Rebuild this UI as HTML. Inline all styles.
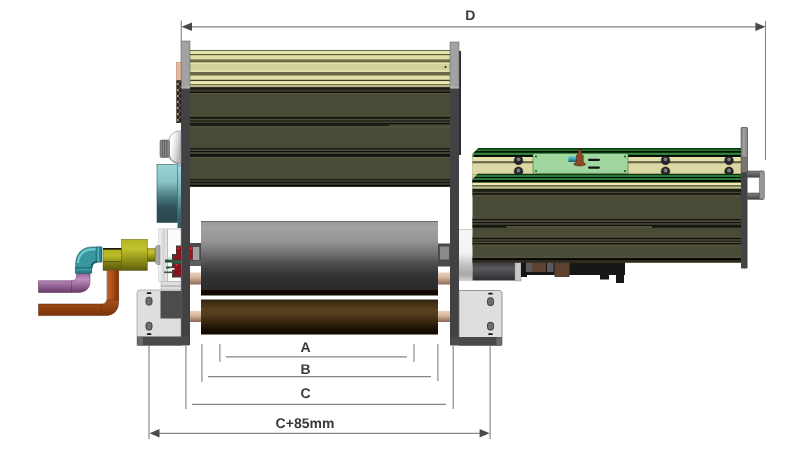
<!DOCTYPE html>
<html><head><meta charset="utf-8">
<style>
html,body{margin:0;padding:0;background:#fff;}
body{width:800px;height:456px;overflow:hidden;font-family:"Liberation Sans",sans-serif;}
svg{display:block;}
text{text-rendering:geometricPrecision;font-family:"Liberation Sans",sans-serif;font-weight:bold;font-size:14px;fill:#3a3a3a;}
</style></head><body>
<svg width="800" height="456" viewBox="0 0 800 456">
<defs>
<linearGradient id="gRoll" x1="0" y1="0" x2="0" y2="1">
 <stop offset="0" stop-color="#989898"/><stop offset="0.1" stop-color="#a2a2a2"/><stop offset="0.28" stop-color="#969696"/>
 <stop offset="0.45" stop-color="#747474"/><stop offset="0.62" stop-color="#4c4c4c"/><stop offset="0.8" stop-color="#323232"/><stop offset="1" stop-color="#2a2a2a"/>
</linearGradient>
<linearGradient id="gBrown" x1="0" y1="0" x2="0" y2="1">
 <stop offset="0" stop-color="#2c1e0a"/><stop offset="0.1" stop-color="#403014"/><stop offset="0.3" stop-color="#584220"/><stop offset="0.45" stop-color="#503a1a"/><stop offset="0.65" stop-color="#35250e"/>
 <stop offset="0.85" stop-color="#1a1004"/><stop offset="1" stop-color="#100800"/>
</linearGradient>
<linearGradient id="gTeal" x1="0" y1="0" x2="0" y2="1">
 <stop offset="0" stop-color="#9ad4d8"/><stop offset="0.3" stop-color="#88c4c8"/><stop offset="0.55" stop-color="#4c7c84"/><stop offset="0.75" stop-color="#2e4e56"/><stop offset="1" stop-color="#2a464e"/>
</linearGradient>
<linearGradient id="gPeach" x1="0" y1="0" x2="0" y2="1">
 <stop offset="0" stop-color="#e8d0bc"/><stop offset="0.4" stop-color="#d8b8a0"/><stop offset="1" stop-color="#8a6a58"/>
</linearGradient>
<linearGradient id="gMotor" x1="0" y1="0" x2="0" y2="1">
 <stop offset="0" stop-color="#3a3a3c"/><stop offset="0.35" stop-color="#5a5a5e"/><stop offset="1" stop-color="#2c2c2e"/>
</linearGradient>
<linearGradient id="gSilver" x1="0" y1="0" x2="0" y2="1">
 <stop offset="0" stop-color="#f6f6f6"/><stop offset="0.45" stop-color="#f4f4f4"/><stop offset="0.72" stop-color="#bcbcbc"/><stop offset="0.88" stop-color="#a8a8a8"/><stop offset="1" stop-color="#d4d4d4"/>
</linearGradient>
<linearGradient id="gPurple" x1="0" y1="0" x2="0" y2="1">
 <stop offset="0" stop-color="#8a5a8a"/><stop offset="0.35" stop-color="#c090c0"/><stop offset="1" stop-color="#6a3a6a"/>
</linearGradient>
<linearGradient id="gOrange" x1="0" y1="0" x2="0" y2="1">
 <stop offset="0" stop-color="#a04a14"/><stop offset="0.35" stop-color="#d06a28"/><stop offset="1" stop-color="#7a3208"/>
</linearGradient>
<linearGradient id="gOrangeV" x1="0" y1="0" x2="1" y2="0">
 <stop offset="0" stop-color="#c86426"/><stop offset="0.5" stop-color="#a84e16"/><stop offset="1" stop-color="#7a3208"/>
</linearGradient>
<linearGradient id="gYellow" x1="0" y1="0" x2="0" y2="1">
 <stop offset="0" stop-color="#b4b422"/><stop offset="0.3" stop-color="#c2c22c"/><stop offset="0.7" stop-color="#8c8c18"/><stop offset="1" stop-color="#5e5e0e"/>
</linearGradient>
<linearGradient id="gKnob" x1="0" y1="0" x2="1" y2="0.4">
 <stop offset="0" stop-color="#e6e6e6"/><stop offset="0.3" stop-color="#ffffff"/><stop offset="0.7" stop-color="#dcdcdc"/><stop offset="1" stop-color="#b4b4b4"/>
</linearGradient>
<linearGradient id="gHandle" x1="0" y1="0" x2="0" y2="1">
 <stop offset="0" stop-color="#7c7c7c"/><stop offset="0.4" stop-color="#6a6a6a"/><stop offset="1" stop-color="#444446"/>
</linearGradient>
<linearGradient id="gHouse" x1="0" y1="0" x2="1" y2="0">
 <stop offset="0" stop-color="#f4f4f4"/><stop offset="0.5" stop-color="#d2d2d2"/><stop offset="1" stop-color="#ececec"/>
</linearGradient>
<linearGradient id="gYellow2" x1="0" y1="0" x2="0" y2="1">
 <stop offset="0" stop-color="#b0b020"/><stop offset="0.3" stop-color="#bcbc28"/><stop offset="0.55" stop-color="#9a9a1c"/><stop offset="0.6" stop-color="#808014"/><stop offset="1" stop-color="#5a5a0e"/>
</linearGradient>
<linearGradient id="gTeal2" x1="0" y1="0" x2="0" y2="1">
 <stop offset="0" stop-color="#a4dce0"/><stop offset="0.4" stop-color="#7ab4ba"/><stop offset="0.75" stop-color="#3e6e76"/><stop offset="1" stop-color="#35525a"/>
</linearGradient>
<linearGradient id="gNoz" x1="0" y1="0" x2="0" y2="1">
 <stop offset="0" stop-color="#62c8d8"/><stop offset="0.5" stop-color="#38a0b4"/><stop offset="1" stop-color="#1c5c6c"/>
</linearGradient>
</defs>

<!-- ===== upper main box ===== -->
<g id="upperbox">
 <rect x="190" y="50" width="260" height="38" fill="#d6d6a0"/>
 <rect x="190" y="50.000" width="260" height="1.000" fill="#66665a"/>
 <rect x="190" y="51.000" width="260" height="3.000" fill="#e4e4a8"/>
 <rect x="190" y="54.000" width="260" height="1.400" fill="#5c5c42"/>
 <rect x="190" y="55.400" width="260" height="4.000" fill="#dedea2"/>
 <rect x="190" y="59.400" width="260" height="3.200" fill="#6a6a4c"/>
 <rect x="190" y="62.600" width="260" height="1.400" fill="#e4e4b0"/>
 <rect x="190" y="64.000" width="260" height="6.500" fill="#d2d29c"/>
 <rect x="190" y="70.500" width="260" height="1.500" fill="#e2e2ae"/>
 <rect x="190" y="72.000" width="260" height="3.700" fill="#6a684a"/>
 <rect x="190" y="75.700" width="260" height="4.100" fill="#e0e0a6"/>
 <rect x="190" y="79.800" width="260" height="1.400" fill="#3e3c2a"/>
 <rect x="190" y="81.200" width="260" height="2.800" fill="#ececb2"/>
 <rect x="190" y="84.000" width="260" height="1.000" fill="#706c4a"/>
 <rect x="190" y="85.000" width="260" height="1.800" fill="#c0c094"/>
 <rect x="190" y="86.800" width="260" height="1.200" fill="#55553c"/>
 <circle cx="445.5" cy="67" r="1" fill="#222"/>
 <rect x="190" y="88" width="260" height="98.700" fill="#4a4b37"/>
 <rect x="190" y="87.500" width="260" height="2.200" fill="#1a1a12"/>
 <rect x="190" y="89.700" width="260" height="2.100" fill="#38382e"/>
 <rect x="190" y="91.800" width="260" height="1.200" fill="#101008"/>
 <rect x="190" y="93.000" width="260" height="1.500" fill="#54543f"/>
 <rect x="190" y="117.000" width="260" height="1.800" fill="#101008"/>
 <rect x="190" y="118.800" width="260" height="1.500" fill="#4a4a3e"/>
 <rect x="190" y="120.300" width="260" height="1.500" fill="#1e1e16"/>
 <rect x="190" y="121.800" width="260" height="1.100" fill="#48483a"/>
 <rect x="190" y="122.900" width="260" height="1.500" fill="#141410"/>
 <rect x="190" y="124.400" width="199" height="1.500" fill="#141410"/>
 <rect x="190" y="125.900" width="260" height="1.600" fill="#525240"/>
 <rect x="190" y="148.000" width="260" height="1.800" fill="#1e1e16"/>
 <rect x="190" y="149.800" width="260" height="1.200" fill="#4e4e3e"/>
 <rect x="190" y="151.000" width="260" height="1.300" fill="#101008"/>
 <rect x="190" y="152.300" width="260" height="1.600" fill="#46463a"/>
 <rect x="190" y="153.900" width="260" height="3.000" fill="#14140e"/>
 <rect x="190" y="156.900" width="260" height="1.600" fill="#525240"/>
 <rect x="190" y="177.300" width="260" height="1.500" fill="#525240"/>
 <rect x="190" y="178.800" width="260" height="1.300" fill="#1e1e14"/>
 <rect x="190" y="180.100" width="260" height="1.600" fill="#3a3a2c"/>
 <rect x="190" y="181.700" width="260" height="1.200" fill="#15150c"/>
 <rect x="190" y="182.900" width="260" height="2.000" fill="#363628"/>
 <rect x="190" y="184.900" width="260" height="1.800" fill="#080806"/>
</g>

<!-- left plate -->
<rect x="181" y="41" width="9" height="304" fill="#424245"/>
<rect x="181" y="41" width="9" height="47" fill="#a2a2a2" stroke="#6a6a6a" stroke-width="0.6"/>
<rect x="181" y="86.500" width="9" height="2" fill="#b4b4b4"/>
<!-- right plate -->
<rect x="450" y="42" width="9" height="303" fill="#424245"/>
<rect x="459" y="51" width="2" height="104" fill="#2c2c2e"/>
<rect x="450" y="42" width="9" height="46" fill="#a2a2a2" stroke="#6a6a6a" stroke-width="0.6"/>
<rect x="450" y="86.500" width="9" height="2" fill="#b4b4b4"/>

<!-- peach plate + zigzag connector -->
<rect x="176.500" y="62.500" width="4.500" height="18" fill="#e8b898" stroke="#9a7a60" stroke-width="0.5"/>
<rect x="176.300" y="80.300" width="5" height="42.700" fill="#2c211b"/>
<polyline points="180.8 81.0 177.0 84.0 180.8 87.0 177.0 90.0 180.8 93.0 177.0 96.0 180.8 99.0 177.0 102.0 180.8 105.0 177.0 108.0 180.8 111.0 177.0 114.0 180.8 117.0 177.0 120.0 180.8 123.0" fill="none" stroke="#a88870" stroke-width="0.600"/>
<circle cx="177.900" cy="84.0" r="0.800" fill="#f2dcc8"/><circle cx="177.900" cy="90.0" r="0.800" fill="#f2dcc8"/><circle cx="177.900" cy="96.0" r="0.800" fill="#f2dcc8"/><circle cx="177.900" cy="102.0" r="0.800" fill="#f2dcc8"/><circle cx="177.900" cy="108.0" r="0.800" fill="#f2dcc8"/><circle cx="177.900" cy="114.0" r="0.800" fill="#f2dcc8"/><circle cx="177.900" cy="120.0" r="0.800" fill="#f2dcc8"/>
<!-- white knob -->
<path d="M181 131 h-3 q-7 1.500 -9.300 9 v16.500 q2.300 6 9.300 7.300 h3 z" fill="url(#gKnob)" stroke="#8a8a8a" stroke-width="0.6"/>
<path d="M169.500 156.500 q2.300 5.500 8.500 6.800 h3" fill="none" stroke="#9a9a9a" stroke-width="1.200"/>
<rect x="160" y="140" width="9.500" height="17.500" rx="1.500" fill="#7c7c7c" stroke="#4e4e4e" stroke-width="0.5"/>
<path d="M162.300 140.500 v16.500 M164.600 140.500 v16.500 M166.900 140.500 v16.500" stroke="#525252" stroke-width="0.8" fill="none"/>
<path d="M161.200 140.500 v16.500 M163.500 140.500 v16.500 M165.800 140.500 v16.500 M168.100 140.500 v16.500" stroke="#9c9c9c" stroke-width="0.6" fill="none"/>
<!-- teal block -->
<rect x="177.500" y="166" width="3.500" height="62" fill="url(#gTeal2)"/>
<rect x="157" y="164.500" width="20.500" height="58" fill="url(#gTeal)" stroke="#2c5058" stroke-width="0.6"/>
<rect x="177.500" y="164.500" width="3.500" height="2" fill="#7ab8bc"/>

<!-- ===== rollers ===== -->
<rect x="201" y="221" width="237" height="69.500" fill="url(#gRoll)"/>
<rect x="201" y="221" width="237" height="1" fill="#6e6e6e"/>
<rect x="201" y="290" width="237" height="5.500" fill="#120a02"/>
<rect x="201" y="299.500" width="237" height="35" fill="url(#gBrown)"/>
<!-- shafts -->
<rect x="190" y="272.500" width="11" height="12" fill="url(#gPeach)"/>
<rect x="438" y="272.500" width="12" height="12" fill="url(#gPeach)"/>
<rect x="190" y="311" width="11" height="11" fill="url(#gPeach)"/>
<rect x="438" y="311" width="12" height="11" fill="url(#gPeach)"/>
<rect x="190" y="243" width="11" height="23" fill="#4a4a4c"/>
<rect x="190" y="246.500" width="2.500" height="13" fill="#a01420"/>
<circle cx="191" cy="248.500" r="0.900" fill="#ff2a2a"/>
<rect x="193" y="247" width="6.300" height="13" fill="#a2a2a2"/>
<rect x="190" y="260.500" width="11" height="5.500" fill="#5e5e60"/>
<rect x="438" y="243.500" width="12" height="23" fill="#4a4a4c"/>
<rect x="440" y="246.500" width="9" height="13" fill="#8a8a8a"/>

<!-- ===== left bearing + fittings ===== -->
<rect x="161" y="280" width="20" height="11" fill="#dedede" stroke="#a8a8a8" stroke-width="0.5"/>
<rect x="161" y="285.500" width="20" height="1" fill="#a0a0a0"/>
<rect x="159" y="229" width="22" height="52.500" fill="#fbfbfb" stroke="#9c9c9c" stroke-width="0.6"/>
<rect x="159.300" y="229.300" width="8.300" height="52" fill="url(#gHouse)"/>
<rect x="167.300" y="229.300" width="0.700" height="52" fill="#a4a4a4"/>
<!-- bearing (red/green) -->
<path d="M172 254 h4 v-8.500 h5 v32 h-9 v-9 h-6 v-2 h6 v-4 h-7 v-3 h7 z" fill="#2a4a34"/>
<rect x="176.500" y="246.500" width="4.500" height="13" fill="#861222"/>
<rect x="173" y="255.500" width="8" height="4" fill="#861222"/>
<rect x="173" y="264.500" width="8" height="12" fill="#861222"/>
<rect x="171" y="260.500" width="10" height="2.500" fill="#3a5a44"/>
<rect x="168" y="257" width="4" height="2.200" fill="#c8f0d0"/>
<rect x="170" y="268" width="4.500" height="1.800" fill="#f0f0f0"/>
<rect x="164" y="271.500" width="10" height="1.600" fill="#4a4a4a"/>
<circle cx="178.300" cy="248.300" r="1" fill="#ff2a2a"/>
<circle cx="176.600" cy="265" r="1" fill="#ff2a2a"/>
<!-- grey coupling -->
<path d="M160 245.500 h-3 q-2 1 -2 4 v11 q0 3 2 4 h3 z" fill="#a8a8a8" stroke="#6e6e6e" stroke-width="0.5"/>
<!-- yellow fittings -->
<rect x="147" y="248.500" width="8" height="13" fill="url(#gYellow)" stroke="#4e4e0c" stroke-width="0.4"/>
<rect x="121.400" y="239.300" width="26" height="31.200" fill="url(#gYellow)" stroke="#4e4e0c" stroke-width="0.4"/>
<rect x="103" y="249" width="18.400" height="21.500" fill="url(#gYellow2)" stroke="#4e4e0c" stroke-width="0.4"/>
<rect x="103" y="248" width="18.400" height="1.600" fill="#1a1a10"/>
<rect x="103" y="261" width="18.400" height="0.800" fill="#5a5a10"/>
<!-- orange pipe -->
<path d="M107 270.500 H118.600 V302 C118.600 311 113 315.600 105 315.600 H38.500 V304 H101 C105 304 107 302 107 298 Z" fill="url(#gOrange)" stroke="#5a2406" stroke-width="0.5"/>
<path d="M107 270.500 H118.600 V300 H107 Z" fill="url(#gOrangeV)"/>
<path d="M107 300 H118.600" stroke="#6a2c0a" stroke-width="0.5"/>
<path d="M101.500 304 V315.600" stroke="#6a2c0a" stroke-width="0.5"/>
<!-- purple pipe -->
<path d="M76.600 272 H90 V281 C90 289 85 292.500 78 292.500 H38.500 V280.700 H71 C75 280.700 76.600 279 76.600 276 Z" fill="url(#gPurple)" stroke="#4e2a4e" stroke-width="0.5"/>
<path d="M71.500 280.700 V292.500" stroke="#5a345a" stroke-width="0.5"/>
<!-- teal elbow -->
<path d="M101.800 247 H92 C82 247 75.700 254 75.700 264 V273 H91.600 V268 C91.600 264 93 262 97 262 H101.800 Z" fill="#36989e" stroke="#1c5a62" stroke-width="0.6"/>
<path d="M96 249.300 H92 C84 249.300 78.300 255 78 263" fill="none" stroke="#7cd0d6" stroke-width="2.200" opacity="0.85"/>
<path d="M91.600 268 C91.600 264 93 262 97 262" fill="none" stroke="#1c6068" stroke-width="2"/>
<rect x="96" y="247" width="5.800" height="15" fill="#2c8088" stroke="#1c5a62" stroke-width="0.5"/>
<rect x="97.500" y="247.500" width="1.500" height="14" fill="#58b8c0"/>
<rect x="75.700" y="267.600" width="15.900" height="5.600" fill="#2c8088" stroke="#1c5a62" stroke-width="0.5"/>
<rect x="76.200" y="269" width="14.900" height="1.400" fill="#3aa0a8"/>

<!-- ===== left bracket ===== -->
<path d="M140 290 h41 v55.500 h-44 v-52.500 q0 -3 3 -3 z" fill="#dedede" stroke="#8a8a8a" stroke-width="0.6"/>
<rect x="160.500" y="291" width="20.500" height="27.500" fill="#4c4c4e"/>
<path d="M137 336.500 h52 v9 h-50 q-2 0 -2 -2 z" fill="#4a4a4c"/>
<rect x="137.300" y="336.800" width="5.500" height="8.400" rx="1" fill="#6c6c6c"/>
<rect x="146" y="297.300" width="6" height="7.800" rx="2.500" fill="#6e6e6e" stroke="#363636" stroke-width="0.9"/>
<rect x="146" y="322.300" width="6" height="7.800" rx="2.500" fill="#6e6e6e" stroke="#363636" stroke-width="0.9"/>
<rect x="146.800" y="292.300" width="4.600" height="1.800" rx="0.900" fill="#111"/>
<rect x="146.800" y="333.300" width="4.600" height="1.800" rx="0.900" fill="#111"/>

<!-- ===== right bracket ===== -->
<path d="M459 290.500 h40 q3 0 3 3 v52 h-43 z" fill="#dedede" stroke="#6e6e6e" stroke-width="0.7"/>
<path d="M450 337 h52 v6.500 q0 2 -2 2 h-50 z" fill="#4a4a4c"/>
<rect x="496.500" y="337.300" width="5.200" height="7.900" rx="1" fill="#6c6c6c"/>
<rect x="487.500" y="297.800" width="6" height="7.800" rx="2.500" fill="#6e6e6e" stroke="#363636" stroke-width="0.9"/>
<rect x="487.500" y="322.300" width="6" height="7.800" rx="2.500" fill="#6e6e6e" stroke="#363636" stroke-width="0.9"/>
<rect x="488.200" y="292.800" width="4.600" height="1.800" rx="0.900" fill="#111"/>
<rect x="488.200" y="333.300" width="4.600" height="1.800" rx="0.900" fill="#111"/>

<!-- ===== right box ===== -->
<g id="rightbox">
 <rect x="459" y="229.500" width="13.500" height="51.500" fill="url(#gSilver)"/>
 <rect x="459" y="229.200" width="13.500" height="0.900" fill="#c4c4c4"/>
 <rect x="472.500" y="262" width="43" height="18.500" fill="url(#gMotor)"/>
 <rect x="515" y="262" width="6" height="19" fill="#c8c8c8" stroke="#8a8a8a" stroke-width="0.5"/>
 <rect x="521" y="261" width="104" height="14" fill="#161616"/>
 <rect x="521" y="275" width="6" height="2" fill="#161616"/>
 <rect x="526" y="262" width="6" height="10" fill="#5a5a5e"/>
 <rect x="532" y="262" width="14" height="10" fill="#5e4230"/>
 <rect x="547" y="262" width="6.500" height="10" fill="#5a5a5e"/>
 <rect x="554.500" y="262" width="15" height="15" fill="#5e4230"/>
 <rect x="600" y="275" width="9" height="4.500" fill="#161616"/>
 <rect x="616" y="275" width="8" height="8" fill="#161616"/>

 <path d="M472.500 154 l6 -6 h262.500 v114.600 h-268.500 z" fill="#4a4b37"/>
 <!-- cream channel -->
 <rect x="472.500" y="156" width="268.500" height="18.500" fill="#e4e0ac"/>
 <rect x="472.500" y="161.200" width="268.500" height="2.200" fill="#626248"/>
 <rect x="472.500" y="163.400" width="268.500" height="0.600" fill="#b6b288"/>
 <rect x="472.500" y="163.700" width="268.500" height="10" fill="#dcd8a4"/>
 <!-- bolts -->
 <g fill="#26262a" stroke="#0c0c0c" stroke-width="0.5">
  <circle cx="518.500" cy="160.400" r="4.300"/><circle cx="518.500" cy="171.300" r="4.300"/>
  <circle cx="665.500" cy="160.400" r="4.300"/><circle cx="665.500" cy="171.300" r="4.300"/>
  <circle cx="729" cy="160.400" r="4.300"/><circle cx="729" cy="171.300" r="4.300"/>
 </g>
 <g fill="#7c7c86">
  <circle cx="518.500" cy="159.300" r="1.900"/><circle cx="518.500" cy="170.500" r="1.900"/>
  <circle cx="665.500" cy="159.300" r="1.900"/><circle cx="665.500" cy="170.500" r="1.900"/>
  <circle cx="729" cy="159.300" r="1.900"/><circle cx="729" cy="170.500" r="1.900"/>
 </g>
 <!-- top green band -->
 <path d="M472.500 154 l6 -6 h262.500 v9 h-268.500 z" fill="#2e8a3c"/>
 <path d="M478.500 148 h262.500 v1.800 h-264.300 z" fill="#0e3a14"/>
 <path d="M476.700 149.800 h264.300 v1.200 h-265.500 z" fill="#2a7a30"/>
 <path d="M475.500 151 h265.500 v1.700 h-267.200 z" fill="#061006"/>
 <rect x="472.500" y="154.900" width="268.500" height="2" fill="#020402"/>
 <rect x="472.500" y="154" width="1" height="3" fill="#c8c490"/>
 <!-- lower green band -->
 <path d="M472.500 179 l5 -5 h263.500 v8.700 h-268.500 z" fill="#2a7a34"/>
 <path d="M477.700 173.800 h263.300 v1 h-264.300 z" fill="#0a1a0a"/>
 <path d="M474.600 176.900 h266.400 v1 h-267.400 z" fill="#040804"/>
 <rect x="472.500" y="180.100" width="268.500" height="2.600" fill="#020402"/>
 <path d="M472.500 174.500 h4.500 l-4.500 4.500 z" fill="#d8d4a0"/>
 <rect x="472.500" y="182.600" width="268.500" height="2.400" fill="#eaeaaa"/>
 <rect x="472.500" y="185.000" width="268.500" height="1.600" fill="#6c6c52"/>
 <rect x="472.500" y="186.600" width="268.500" height="2.200" fill="#c8c894"/>
 <rect x="472.500" y="188.800" width="268.500" height="3.100" fill="#1c1c16"/>
 <rect x="472.500" y="191.900" width="268.500" height="1.200" fill="#46463a"/>
 <rect x="472.500" y="193.100" width="268.500" height="1.800" fill="#161610"/>
 <rect x="472.500" y="194.900" width="268.500" height="1.600" fill="#52523f"/>
 <rect x="472.500" y="217.500" width="268.500" height="1.300" fill="#52523f"/>
 <rect x="472.500" y="218.800" width="268.500" height="1.800" fill="#1a1a12"/>
 <rect x="472.500" y="220.600" width="268.500" height="1.500" fill="#4a4a3c"/>
 <rect x="472.500" y="222.100" width="268.500" height="1.000" fill="#0e0e08"/>
 <rect x="472.500" y="223.100" width="268.500" height="1.800" fill="#42423a"/>
 <rect x="472.500" y="224.900" width="268.500" height="1.200" fill="#121208"/>
 <rect x="472.500" y="236.300" width="268.500" height="1.500" fill="#52523f"/>
 <rect x="472.500" y="237.800" width="268.500" height="1.300" fill="#121208"/>
 <rect x="472.500" y="239.100" width="268.500" height="1.700" fill="#3e3e34"/>
 <rect x="472.500" y="240.800" width="268.500" height="1.000" fill="#1a1a10"/>
 <rect x="472.500" y="241.800" width="268.500" height="1.200" fill="#50503f"/>
 <rect x="472.500" y="243.000" width="268.500" height="1.600" fill="#16160c"/>
 <rect x="472.500" y="244.600" width="268.500" height="1.600" fill="#52523f"/>
 <rect x="472.500" y="256.600" width="268.500" height="1.500" fill="#52523f"/>
 <rect x="472.500" y="258.100" width="268.500" height="2.000" fill="#060604"/>
 <rect x="472.500" y="260.100" width="268.500" height="2.500" fill="#2e2a1c"/>
 <rect x="472.500" y="226.100" width="34" height="1.600" fill="#14140c"/>
 <rect x="652" y="226.100" width="89" height="1.600" fill="#14140c"/>
 <rect x="506.500" y="226.100" width="145.500" height="1.300" fill="#52523f"/>
 <!-- light green panel -->
 <rect x="533" y="153.500" width="95" height="19.700" fill="#a0d6a0" stroke="#2e6e34" stroke-width="0.6"/>
 <circle cx="536" cy="156.500" r="0.900" fill="#1a3a1a"/><circle cx="625" cy="156.500" r="0.900" fill="#1a3a1a"/>
 <circle cx="536" cy="171" r="0.900" fill="#1a3a1a"/><circle cx="625" cy="171" r="0.900" fill="#1a3a1a"/>
 <rect x="568.400" y="156.400" width="8.500" height="5.600" fill="url(#gNoz)"/>
 <path d="M578.300 149.300 h2.700 l0.800 6 h1.400 v7 q2.300 1 2.300 2.300 q-1 1.400 -5.800 1.400 q-4.800 0 -5.900 -1.400 q0 -1.300 2.600 -2.300 v-7 h1.200 z" fill="#8a4826" stroke="#3e1c0c" stroke-width="0.500"/>
 <rect x="588" y="158.700" width="12" height="2.200" rx="1.100" fill="#161616"/>
 <rect x="588" y="166.500" width="12" height="2.200" rx="1.100" fill="#161616"/>
 <!-- end plate + handle -->
 <rect x="741" y="127.500" width="6.500" height="141" rx="1" fill="#434345"/>
 <rect x="741" y="157" width="6.500" height="15.500" fill="#767676" stroke="#4a4a4a" stroke-width="0.5"/>
 <rect x="741" y="127.500" width="6.500" height="30" rx="1" fill="#8e8e8e" stroke="#4e4e4e" stroke-width="0.6"/>
 <rect x="743" y="129" width="2" height="27" fill="#a0a0a0"/>
 <rect x="747.500" y="171" width="16" height="6.200" fill="url(#gHandle)" stroke="#3e3e3e" stroke-width="0.5"/>
 <rect x="747.500" y="193" width="16" height="6.300" fill="url(#gHandle)" stroke="#3e3e3e" stroke-width="0.5"/>
 <rect x="759.400" y="171.300" width="5" height="27.800" rx="1" fill="#969696" stroke="#505050" stroke-width="0.5"/>
</g>

<!-- ===== dimensions ===== -->
<g stroke="#868686" stroke-width="1.150" fill="none">
 <line x1="181.300" y1="20.500" x2="181.300" y2="41"/>
 <line x1="765.500" y1="21" x2="765.500" y2="160"/>
 <line x1="190" y1="26.800" x2="756" y2="26.800"/>
 <line x1="219.900" y1="344" x2="219.900" y2="362"/>
 <line x1="414" y1="344" x2="414" y2="362"/>
 <line x1="226" y1="356.800" x2="407" y2="356.800"/>
 <line x1="201.900" y1="344" x2="201.900" y2="382"/>
 <line x1="437.900" y1="344" x2="437.900" y2="381"/>
 <line x1="208" y1="376.600" x2="431" y2="376.600"/>
 <line x1="185.900" y1="346" x2="185.900" y2="409"/>
 <line x1="453.200" y1="346" x2="453.200" y2="409"/>
 <line x1="192" y1="404.300" x2="446" y2="404.300"/>
 <line x1="149" y1="346" x2="149" y2="439"/>
 <line x1="490.100" y1="346" x2="490.100" y2="439"/>
 <line x1="158" y1="433.300" x2="482" y2="433.300"/>
</g>
<g fill="#4a4a4a">
 <path d="M181.500 26.800 l10.500 -4.300 v8.600 z"/>
 <path d="M765.600 26.800 l-10.200 -4.300 v8.600 z"/>
 <path d="M149.500 433.300 l10 -4.200 v8.400 z"/>
 <path d="M489.600 433.300 l-10 -4.200 v8.400 z"/>
</g>
<g style="filter:grayscale(1)"><text x="470.300" y="20" text-anchor="middle">D</text>
<text x="305.500" y="351.500" text-anchor="middle">A</text>
<text x="305.500" y="373.500" text-anchor="middle">B</text>
<text x="305.500" y="398" text-anchor="middle">C</text>
<text x="305" y="428" text-anchor="middle">C+85mm</text></g>
</svg>
</body></html>
